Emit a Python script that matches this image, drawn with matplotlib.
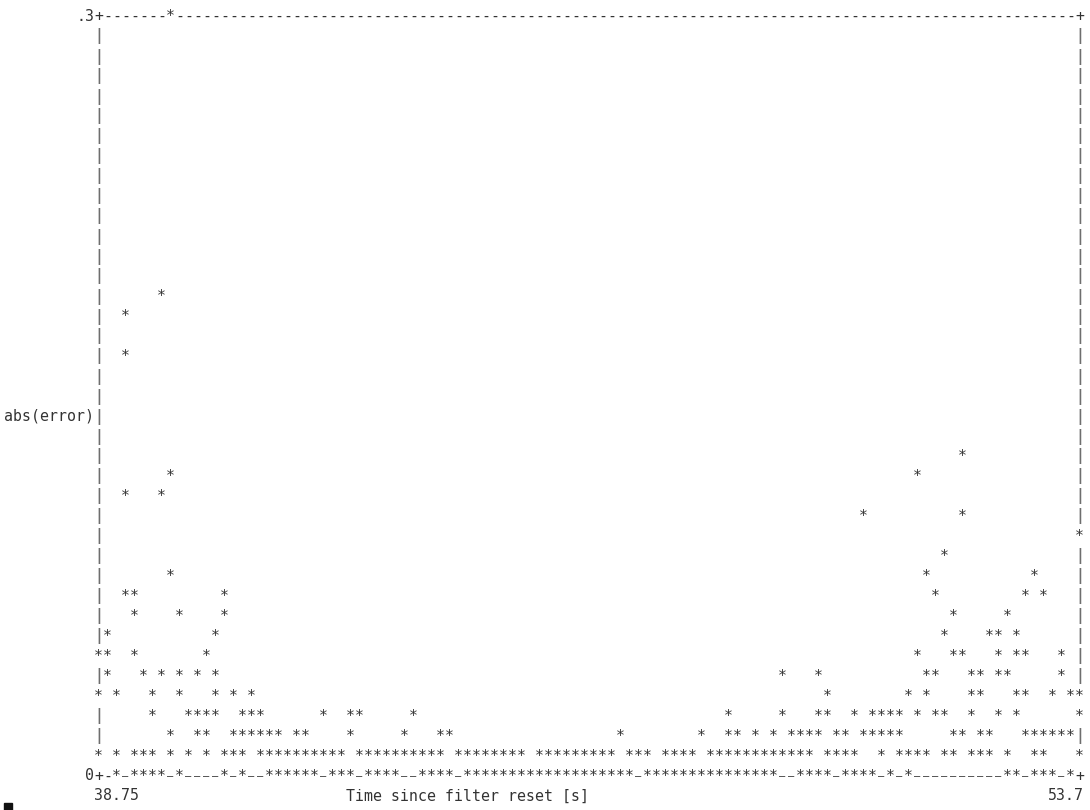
import matplotlib
matplotlib.use('Agg')
import matplotlib.pyplot as plt
from matplotlib import transforms
from matplotlib.patches import Rectangle

# Axis range and the character grid of the text-terminal plot
T_MIN, T_MAX = 38.75, 53.7
ERR_MAX = 0.3
N_COLS, N_ROWS = 109, 38

x_tick_values = [38.75, 53.7]
x_tick_labels = ['38.75', '53.7']
y_tick_values = [0.3, 0.0]
y_tick_labels = ['.3', '0']
x_label = 'Time since filter reset [s]'
y_label = 'abs(error)'

# abs(error) samples, grouped by error level (top of the plot to the bottom)
level_err = [0.300, 0.189, 0.182, 0.166, 0.126, 0.118, 0.111, 0.103, 0.095,
             0.087, 0.079, 0.071, 0.063, 0.055, 0.047, 0.039, 0.032, 0.024,
             0.016, 0.008, 0.000]
level_times = [
    [39.85],
    [39.71],
    [39.16],
    [39.16],
    [51.92],
    [39.85, 51.23],
    [39.16, 39.71],
    [50.41, 51.92],
    [53.70],
    [51.64],
    [39.85, 51.37, 53.01],
    [39.16, 39.30, 40.67, 51.51, 52.88, 53.15],
    [39.30, 39.98, 40.67, 51.78, 52.60],
    [38.89, 40.53, 51.64, 52.33, 52.47, 52.74],
    [38.75, 38.89, 39.30, 40.40, 51.23, 51.78, 51.92, 52.47, 52.74, 52.88,
     53.43],
    [38.89, 39.44, 39.71, 39.98, 40.26, 40.53, 49.17, 49.72, 51.37, 51.51,
     52.05, 52.19, 52.47, 52.60, 53.43],
    [38.75, 39.02, 39.57, 39.98, 40.53, 40.81, 41.08, 49.86, 51.09, 51.37,
     52.05, 52.19, 52.74, 52.88, 53.29, 53.56, 53.70],
    [39.57, 40.12, 40.26, 40.40, 40.53, 40.94, 41.08, 41.22, 42.18, 42.59,
     42.73, 43.55, 48.35, 49.17, 49.72, 49.86, 50.27, 50.55, 50.68, 50.82,
     50.96, 51.23, 51.51, 51.64, 52.05, 52.47, 52.74, 53.70],
    [39.85, 40.26, 40.40, 40.81, 40.94, 41.08, 41.22, 41.36, 41.49, 41.77,
     41.90, 42.59, 43.41, 43.96, 44.10, 46.71, 47.94, 48.35, 48.49, 48.76,
     49.04, 49.31, 49.45, 49.59, 49.72, 50.00, 50.13, 50.41, 50.55, 50.68,
     50.82, 50.96, 51.78, 51.92, 52.19, 52.33, 52.88, 53.01, 53.15, 53.29,
     53.43, 53.56],
    [38.75, 39.02, 39.30, 39.44, 39.57, 39.85, 40.12, 40.40, 40.67, 40.81,
     40.94, 41.22, 41.36, 41.49, 41.63, 41.77, 41.90, 42.04, 42.18, 42.32,
     42.45, 42.73, 42.86, 43.00, 43.14, 43.28, 43.41, 43.55, 43.69, 43.83,
     43.96, 44.24, 44.37, 44.51, 44.65, 44.79, 44.92, 45.06, 45.20, 45.47,
     45.61, 45.74, 45.88, 46.02, 46.16, 46.29, 46.43, 46.57, 46.84, 46.98,
     47.12, 47.39, 47.53, 47.67, 47.80, 48.08, 48.21, 48.35, 48.49, 48.63,
     48.76, 48.90, 49.04, 49.17, 49.31, 49.45, 49.59, 49.86, 50.00, 50.13,
     50.27, 50.68, 50.96, 51.09, 51.23, 51.37, 51.64, 51.78, 52.05, 52.19,
     52.33, 52.60, 53.01, 53.15, 53.70],
    [39.02, 39.30, 39.44, 39.57, 39.71, 39.98, 40.67, 40.94, 41.36, 41.49,
     41.63, 41.77, 41.90, 42.04, 42.32, 42.45, 42.59, 42.86, 43.00, 43.14,
     43.28, 43.69, 43.83, 43.96, 44.10, 44.37, 44.51, 44.65, 44.79, 44.92,
     45.06, 45.20, 45.33, 45.47, 45.61, 45.74, 45.88, 46.02, 46.16, 46.29,
     46.43, 46.57, 46.71, 46.84, 47.12, 47.25, 47.39, 47.53, 47.67, 47.80,
     47.94, 48.08, 48.21, 48.35, 48.49, 48.63, 48.76, 48.90, 49.04, 49.45,
     49.59, 49.72, 49.86, 50.13, 50.27, 50.41, 50.55, 50.82, 51.09, 52.60,
     52.74, 53.01, 53.15, 53.29, 53.56],
]

INK = '#333333'
FONT = dict(family='DejaVu Sans Mono', size=10.76, color=INK)

fig = plt.figure(figsize=(10.9, 8.1), dpi=100)
fig.patch.set_facecolor('white')
# frame: left/right border columns at 98.5/1079.5 px, top/bottom rows at 15/775 px
ax = fig.add_axes([98.5 / 1090, 35 / 810, 981 / 1090, 760 / 810])
ax.set_xlim(T_MIN, T_MAX)
ax.set_ylim(0, ERR_MAX)
ax.axis('off')

dt = (T_MAX - T_MIN) / N_COLS
de = ERR_MAX / N_ROWS


def col_of(t):
    return int(round((t - T_MIN) / dt))


def row_of(e):
    return int(round(e / de))


def cell_xy(c, r):
    return T_MIN + c * dt, r * de


# baseline sits a little below the centre of each character row
tr_text = transforms.offset_copy(ax.transData, fig=fig, x=0, y=-5.5, units='dots')
tr_under = transforms.offset_copy(ax.transData, fig=fig, x=0, y=1.0, units='dots')

# character grid: border first, then zero line, then the samples on top
grid = {}
for c in range(1, N_COLS):
    grid[(c, N_ROWS)] = '-'
    grid[(c, 0)] = '-'
for r in range(1, N_ROWS):
    grid[(0, r)] = '|'
    grid[(N_COLS, r)] = '|'
for c in (0, N_COLS):
    grid[(c, 0)] = '+'
    grid[(c, N_ROWS)] = '+'

zero_cols = [col_of(t) for t in level_times[-1]]
for c in range(min(zero_cols), max(zero_cols) + 1):
    grid[(c, 0)] = '_'

for e, times in zip(level_err, level_times):
    for t in times:
        grid[(col_of(t), row_of(e))] = '*'

for (c, r), ch in grid.items():
    x, y = cell_xy(c, r)
    if ch == '_':
        # narrower underscore so neighbours stay apart, as in the terminal font
        ax.text(x, y, ch, ha='center', va='baseline', clip_on=False,
                transform=tr_under, family='DejaVu Sans Mono', size=7.5, color=INK)
    elif ch == '|':
        ax.text(x, y, ch, ha='center', va='baseline', clip_on=False,
                transform=tr_text, family='DejaVu Sans Mono', size=10.76,
                color='#6e6e6e', fontweight='bold')
    else:
        ax.text(x, y, ch, ha='center', va='baseline', clip_on=False,
                transform=tr_text, **FONT)

# tick labels, left of the frame / under it
for v, lab in zip(y_tick_values, y_tick_labels):
    x, y = cell_xy(-0.5, row_of(v))
    ax.text(x, y, lab, ha='right', va='baseline', transform=tr_text,
            clip_on=False, **FONT)
for i, (v, lab) in enumerate(zip(x_tick_values, x_tick_labels)):
    c = col_of(v)
    x, y = cell_xy(c - 0.5 if i == 0 else c + 0.5, -1)
    ax.text(x, y, lab, ha='left' if i == 0 else 'right', va='baseline',
            transform=tr_text, clip_on=False, **FONT)

x, y = cell_xy(27.5, -1)
ax.text(x, y, x_label, ha='left', va='baseline', transform=tr_text,
        clip_on=False, **FONT)
x, y = cell_xy(-0.5, 18)
ax.text(x, y, y_label, ha='right', va='baseline', transform=tr_text,
        clip_on=False, **FONT)

# terminal cursor block in the bottom-left corner
fig.add_artist(Rectangle((4, 0), 8, 7, transform=transforms.IdentityTransform(),
                         color='#111111'))

fig.savefig('out.png', dpi=100)
